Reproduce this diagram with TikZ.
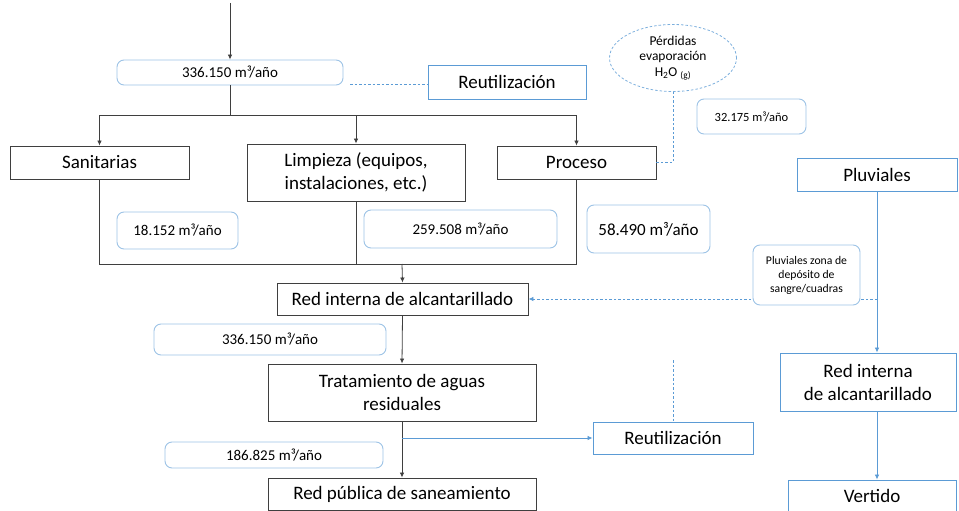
\documentclass[tikz,border=0pt]{standalone}
\usepackage{fontspec}
\setmainfont{Carlito}
\usetikzlibrary{arrows.meta,shapes.geometric}
\definecolor{ln}{HTML}{3F3F3F}
\definecolor{bl}{HTML}{5B9BD5}
\definecolor{lbl}{HTML}{9DC3E6}
\tikzset{
  bigbox/.style={draw=ln,line width=0.9pt,fill=white,align=center,inner sep=0pt,
    font=\fontsize{19}{23}\selectfont,text=black},
  bluebox/.style={draw=bl,line width=0.9pt,fill=white,align=center,inner sep=0pt,
    font=\fontsize{19}{23}\selectfont,text=black},
  valbox/.style={draw=lbl,line width=0.9pt,fill=white,rounded corners=7pt,align=center,inner sep=0pt,
    font=\fontsize{15}{18}\selectfont,text=black},
  smallbox/.style={draw=lbl,line width=0.9pt,fill=white,rounded corners=7pt,align=center,inner sep=0pt,
    font=\fontsize{12.5}{14.5}\selectfont,text=black},
  conn/.style={draw=ln,line width=0.8pt},
  arr/.style={conn,-{Latex[length=5pt,width=4.5pt]}},
  bconn/.style={draw=bl,line width=0.8pt},
  barr/.style={bconn,-{Latex[length=5pt,width=4.5pt]}},
  bdash/.style={draw=bl,line width=0.8pt,dash pattern=on 2.5pt off 2pt},
}
\begin{document}
\begin{tikzpicture}[x=1pt,y=-1pt]
\useasboundingbox (0,0) rectangle (959,511);
% nodes
\node[valbox,minimum width=226pt,minimum height=25pt] (v1) at (230,72.5) {336.150 m³/año};
\node[bluebox,minimum width=158pt,minimum height=34pt] (reut1) at (507,82) {Reutilización};
\node[bigbox,minimum width=179pt,minimum height=33pt] (san) at (99.5,162.5) {Sanitarias};
\node[bigbox,minimum width=218pt,minimum height=57pt] (lim) at (356,172.5) {Limpieza (equipos,\\instalaciones, etc.)};
\node[bigbox,minimum width=159pt,minimum height=33pt] (pro) at (576.5,162.5) {Proceso};
\node[draw=bl!80,line width=0.8pt,dash pattern=on 2.5pt off 2pt,ellipse,minimum width=127pt,minimum height=67pt,inner sep=0pt,align=center,
  font=\fontsize{13.5}{15.5}\selectfont] (ell) at (673,58) {Pérdidas\\evaporación\\H\textsubscript{2}O \textsubscript{(g)}};
\node[smallbox,minimum width=109pt,minimum height=35pt] (v5) at (751.5,116.5) {32.175 m³/año};
\node[bigbox,draw=bl,minimum width=160pt,minimum height=33pt] (pluv) at (877,174.5) {Pluviales};
\node[valbox,minimum width=121pt,minimum height=37pt] (v2) at (177.5,230.5) {18.152 m³/año};
\node[valbox,minimum width=193pt,minimum height=38pt] (v3) at (460.5,229) {259.508 m³/año};
\node[valbox,minimum width=123pt,minimum height=48pt,font=\fontsize{17}{20}\selectfont] (v4) at (648.5,229) {58.490 m³/año};
\node[bigbox,minimum width=251pt,minimum height=32pt] (ri) at (402.5,299) {Red interna de alcantarillado};
\node[valbox,minimum width=232pt,minimum height=31pt] (v6) at (270,339.5) {336.150 m³/año};
\node[bigbox,minimum width=268pt,minimum height=57pt] (trat) at (402,392.5) {Tratamiento de aguas\\residuales};
\node[valbox,minimum width=218pt,minimum height=26pt] (v7) at (274,455) {186.825 m³/año};
\node[bigbox,minimum width=268pt,minimum height=32pt] (rp) at (402,494) {Red pública de saneamiento};
\node[bluebox,minimum width=160pt,minimum height=32pt] (reut2) at (673,438) {Reutilización};
\node[bigbox,draw=bl,minimum width=176pt,minimum height=58pt] (ri2) at (868,382) {Red interna\\de alcantarillado};
\node[bigbox,draw=bl,minimum width=168pt,minimum height=50pt,text depth=0pt] (ver) at (872,505) {};
\node[font=\fontsize{19}{23}\selectfont,anchor=base] (vt) at (872,502) {Vertido};
% coordinates
\coordinate (top) at (230,3);
\coordinate (d1) at (350,84);
\coordinate (split) at (230,115);
\coordinate (merge) at (402,264);
\coordinate (dr) at (673,360);
% connectors
\draw[arr] (top) -- (v1.north);
\draw[bdash] (d1) -- (d1 -| reut1.west);
\draw[conn] (v1.south) -- (split);
\draw[conn] (split -| san.north) -- (split -| pro.north);
\draw[arr] (split -| san.north) -- (san.north);
\draw[arr] (split -| lim.north) -- (lim.north);
\draw[arr] (split -| pro.north) -- (pro.north);
\draw[bdash] (pro.east) -| (ell.south);
\draw[conn] (san.south) -- (merge -| san.south) -- (merge -| pro.south) -- (pro.south);
\draw[conn] (lim.south) -- (merge -| lim.south);
\draw[arr] (merge) -- (ri.north);
\coordinate (pj) at (pluv.south |- ri.east);
\draw[barr] (pluv.south) -- (pluv.south |- ri2.north);
\draw[bdash,-{Latex[length=5pt,width=4.5pt]}] (pj) -- (ri.east);
\node[smallbox,minimum width=107pt,minimum height=60pt,font=\fontsize{11.7}{14}\selectfont] (pz) at (806.5,275) {Pluviales zona de\\depósito de\\sangre/cuadras};
\draw[arr] (ri.south) -- (trat.north);
\draw[arr] (trat.south) -- (rp.north);
\coordinate (rj) at (trat.south |- reut2.west);
\draw[barr] (rj) -- (reut2.west);
\draw[bdash] (dr) -- (reut2.north);
\draw[barr] (pluv.south |- ri2.south) -- (pluv.south |- ver.north);
\end{tikzpicture}
\end{document}
